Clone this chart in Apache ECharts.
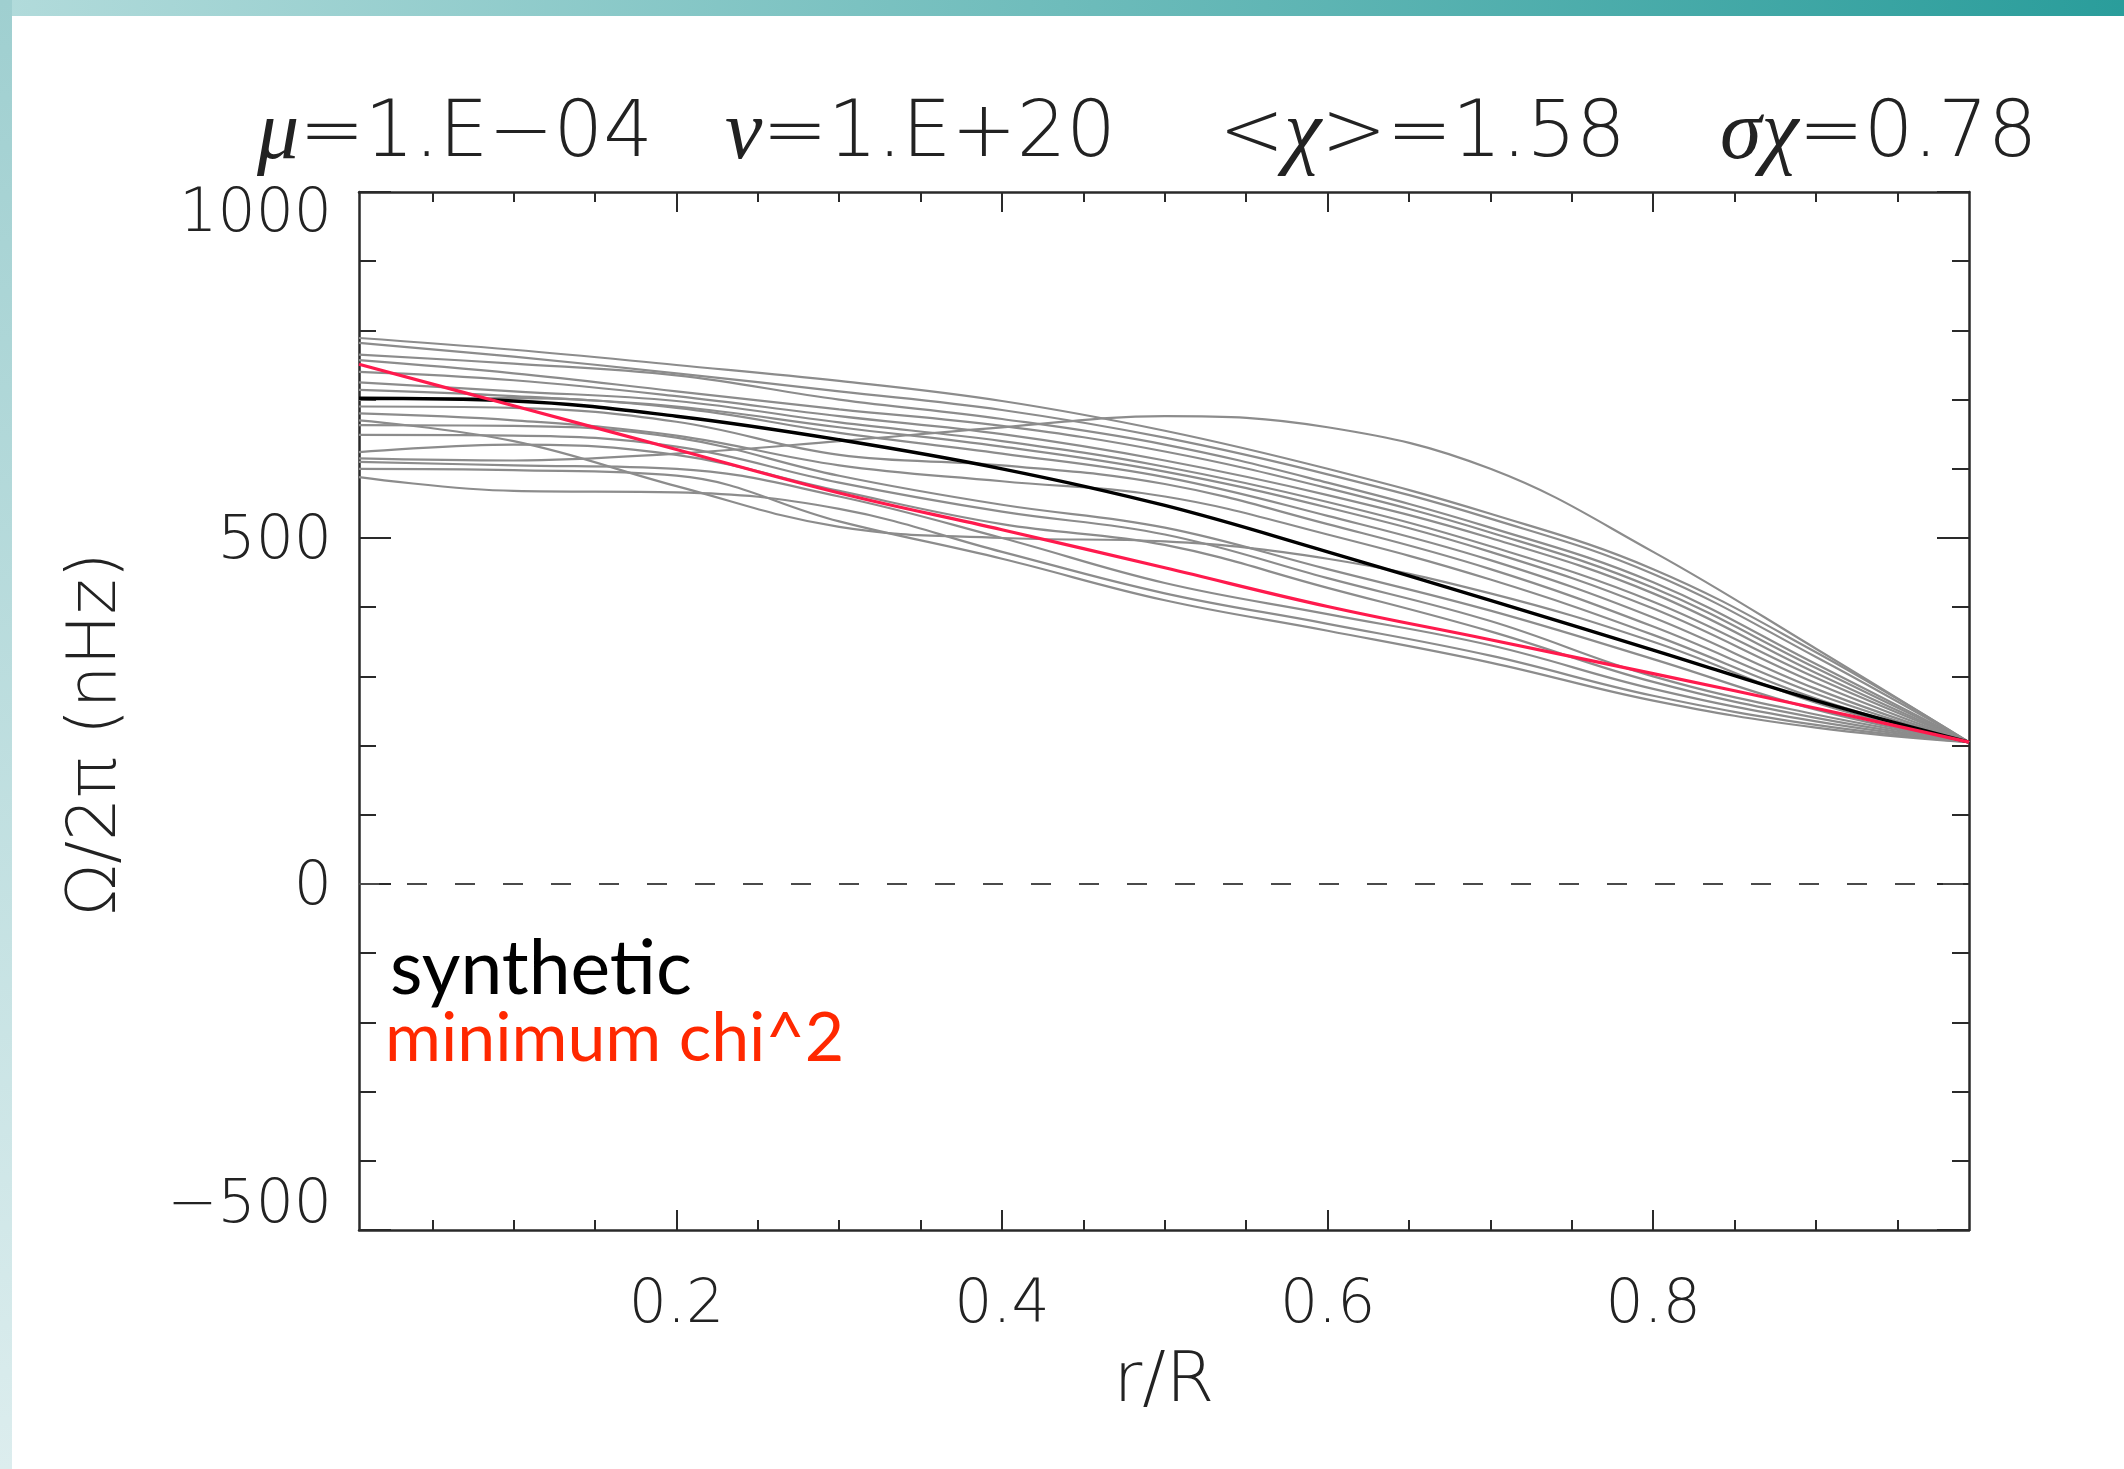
<!DOCTYPE html>
<html><head><meta charset="utf-8">
<script src="https://cdn.jsdelivr.net/npm/echarts@6/dist/echarts.min.js"></script>
<style>html,body{margin:0;padding:0;background:#fff}#c{width:2124px;height:1469px}</style>
</head><body><div id="c"></div>
<script>
// ---- data (r/R grid and Omega/2pi in nHz) ----
const radius    = [0.005, 0.1, 0.2, 0.3, 0.4, 0.5, 0.6, 0.7, 0.8, 0.9, 0.994];
const synthetic = [702, 698, 676, 642, 600, 547, 480, 410, 338, 265, 205];
const minChi2   = [751, 691, 628, 565, 512, 457, 401, 353, 304, 254, 205];
const trial01 = [789, 772, 750, 727, 698, 655, 600, 535, 455, 335, 205];
const trial02 = [782, 762, 738, 712, 685, 645, 592, 528, 448, 328, 205];
const trial03 = [765, 752, 735, 700, 672, 635, 580, 515, 436, 318, 205];
const trial04 = [757, 738, 712, 686, 662, 625, 572, 508, 428, 312, 205];
const trial05 = [740, 728, 705, 676, 650, 612, 562, 500, 420, 305, 205];
const trial06 = [725, 712, 698, 667, 640, 603, 552, 488, 408, 298, 205];
const trial07 = [714, 705, 690, 660, 632, 596, 544, 480, 398, 290, 205];
const trial08 = [700, 702, 688, 652, 622, 588, 532, 468, 385, 282, 205];
const trial09 = [690, 688, 668, 620, 605, 578, 520, 455, 372, 275, 205];
const trial10 = [680, 670, 648, 605, 582, 560, 505, 440, 360, 268, 205];
const trial11 = [670, 640, 575, 516, 500, 495, 470, 420, 350, 262, 205];
const trial12 = [663, 662, 645, 590, 548, 515, 455, 395, 325, 252, 205];
const trial13 = [649, 648, 632, 580, 538, 505, 442, 380, 300, 245, 205];
const trial14 = [624, 635, 620, 568, 520, 490, 428, 365, 292, 240, 205];
const trial15 = [610, 605, 600, 560, 500, 435, 390, 345, 282, 235, 205];
const trial16 = [588, 568, 566, 542, 480, 420, 376, 330, 272, 230, 205];
const trial17 = [600, 598, 590, 524, 470, 410, 366, 320, 265, 226, 205];
const trial18 = [615, 612, 622, 640, 660, 676, 660, 600, 480, 340, 205];
const zeroLevel = [0, 0];
const xRange = [0.005, 0.994];
const yRange = [-500, 1000];
const xMajorTicks = [0.2, 0.4, 0.6, 0.8];
const xMinorTicks = [0.05, 0.1, 0.15, 0.25, 0.3, 0.35, 0.45, 0.5, 0.55, 0.65, 0.7, 0.75, 0.85, 0.9, 0.95];
const yInterval = 500;

const trials = [trial01, trial02, trial03, trial04, trial05, trial06, trial07, trial08, trial09,
  trial10, trial11, trial12, trial13, trial14, trial15, trial16, trial17, trial18];

const FONT = 'DejaVu Sans';
const axisColor = '#2a2a2a';
const pair = arr => radius.map((r, i) => [r, arr[i]]);

const series = [];
series.push({
  type: 'line', name: 'zero', data: [[xRange[0], zeroLevel[0]], [xRange[1], zeroLevel[1]]],
  symbol: 'none', silent: true, z: 1,
  lineStyle: { color: '#4a4a4a', width: 2, type: [20, 28] }
});
trials.forEach((t, i) => series.push({
  type: 'line', name: 'trial' + (i + 1), data: pair(t), symbol: 'none', smooth: 0.4,
  silent: true, z: 2, lineStyle: { color: '#8c8c8c', width: 2.2 }
}));
series.push({
  type: 'line', name: 'synthetic', data: pair(synthetic), symbol: 'none', smooth: 0.4,
  z: 3, lineStyle: { color: '#000', width: 3.4 }
});
series.push({
  type: 'line', name: 'minimum chi^2', data: pair(minChi2), symbol: 'none', smooth: 0.4,
  z: 4, lineStyle: { color: '#ff1a4d', width: 3.2 }
});

const tickFont = { fontFamily: FONT, fontWeight: 200, fontSize: 60, color: '#222' };
function xAx(pos, ticks, len, showLabel, showLine) {
  return {
    type: 'value', position: pos, min: xRange[0], max: xRange[1],
    axisLine: { show: showLine, onZero: false, lineStyle: { color: axisColor, width: 2.5 } },
    axisTick: { show: true, inside: true, length: len, customValues: ticks, lineStyle: { color: axisColor, width: 2 } },
    axisLabel: Object.assign({ show: showLabel, customValues: ticks, margin: 46 }, tickFont),
    splitLine: { show: false }
  };
}
function yLabel(v) {
  const s = v < 0 ? '\u2212' + Math.abs(v) : String(v);
  if (v === yRange[1]) return '{hi|' + s + '}';
  if (v === yRange[0]) return '{lo|' + s + '}';
  return '{mid|' + s + '}';
}
function yAx(pos, showLabel) {
  return {
    type: 'value', position: pos, min: yRange[0], max: yRange[1], interval: yInterval,
    axisLine: { show: true, onZero: false, lineStyle: { color: axisColor, width: 2.5 } },
    axisTick: { show: true, inside: true, length: 32, lineStyle: { color: axisColor, width: 2 } },
    minorTick: { show: true, splitNumber: 5, length: 17, lineStyle: { color: axisColor, width: 2 } },
    axisLabel: Object.assign({ show: showLabel, margin: 27, formatter: yLabel,
      rich: {
        hi: Object.assign({ padding: [46, 0, 0, 0] }, tickFont),
        lo: Object.assign({ padding: [0, 0, 48, 0] }, tickFont),
        mid: Object.assign({ padding: [8, 0, 0, 0] }, tickFont)
      } }, tickFont),
    splitLine: { show: false }, minorSplitLine: { show: false }
  };
}
const yLeft = yAx('left', true);
Object.assign(yLeft, {
  name: 'Ω/2π (nHz)', nameLocation: 'middle', nameRotate: 90, nameGap: 228,
  nameTextStyle: { fontFamily: FONT, fontWeight: 200, fontSize: 68, color: '#222', padding: [0, 46, 0, 0] }
});
const xBottom = xAx('bottom', xMajorTicks, 20, true, true);
Object.assign(xBottom, {
  name: 'r/R', nameLocation: 'middle', nameGap: 118,
  nameTextStyle: { fontFamily: FONT, fontWeight: 200, fontSize: 70, color: '#222' }
});

const greek = { fontFamily: 'Liberation Serif', fontStyle: 'italic', fontSize: 84, color: '#222' };
const plain = { fontFamily: FONT, fontWeight: 200, fontSize: 78, color: '#222' };
function titlePiece(x, rich) {
  return { type: 'text', left: x, top: 94, z: 10,
    style: { text: rich, rich: { g: greek, n: plain }, fill: '#222', font: '78px ' + FONT } };
}

const chart = echarts.init(document.getElementById('c'), null, { renderer: 'canvas' });
chart.setOption({
  backgroundColor: '#ffffff',
  animation: false,
  grid: { left: 359, right: 155, top: 192, bottom: 239, containLabel: false },
  xAxis: [xBottom, xAx('bottom', xMinorTicks, 10, false, false),
          xAx('top', xMajorTicks, 20, false, true), xAx('top', xMinorTicks, 10, false, false)],
  yAxis: [yLeft, yAx('right', false)],
  series: series,
  graphic: [
    { type: 'rect', left: 0, top: 0, z: -1, shape: { width: 2124, height: 16 },
      style: { fill: new echarts.graphic.LinearGradient(0, 0, 1, 0, [
        { offset: 0, color: '#b2dbdb' }, { offset: 1, color: '#2a9d9b' }]) } },
    { type: 'rect', left: 0, top: 0, z: -1, shape: { width: 12, height: 1469 },
      style: { fill: new echarts.graphic.LinearGradient(0, 0, 0, 1, [
        { offset: 0, color: '#9fcfd0' }, { offset: 1, color: '#dcedee' }]) } },
    titlePiece(257, '{g|μ}{n|=1.E−04}'),
    titlePiece(725, '{g|ν}{n|=1.E+20}'),
    titlePiece(1219, '{n|<}{g|χ}{n|>=1.58}'),
    titlePiece(1720, '{g|σχ}{n|=0.78}'),
    { type: 'text', left: 390, top: 932, z: 10,
      style: { text: 'synthetic', fill: '#000', font: '75px Lato' } },
    { type: 'text', left: 385, top: 1005, z: 10,
      style: { text: 'minimum chi^2', fill: '#ff2800', font: '68px Lato' } }
  ]
});
</script></body></html>
